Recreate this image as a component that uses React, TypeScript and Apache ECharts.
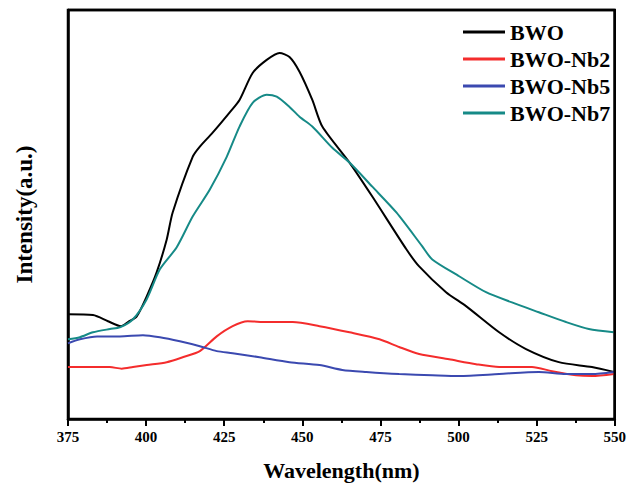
import React, { useEffect, useRef } from "react";
import * as echarts from "echarts";

const xTicks = [375, 400, 425, 450, 475, 500, 525, 550];
const xMin = 375;
const xMax = 550;
const yMin = 0;
const yMax = 100;

const bwoX = [375, 383, 387.8, 392, 394.2, 397, 400.2, 403.4, 406.6, 408.5, 414.9, 417.2, 421.3, 426.7, 429.9, 434.1, 438.6, 442.7, 445.9, 449.1, 453.2, 456.4, 465.1, 472.4, 483.3, 487.4, 496, 502.4, 513, 521.6, 532.1, 542.7, 549.7];
const bwoY = [25.6, 25.4, 23.9, 22.7, 23.7, 25.1, 30, 35.9, 43.9, 50.5, 64.1, 66.6, 70, 74.9, 78, 84.6, 87.8, 89.5, 88.5, 84.9, 78, 71.5, 62.7, 54.4, 41.5, 37.3, 31, 27.6, 21.2, 17.1, 13.9, 12.7, 11.5];

const nb2X = [375, 383, 388.4, 392.2, 395.8, 400.2, 406.6, 411.7, 417.2, 422.6, 427.7, 432.5, 438.6, 446.9, 455.5, 465.1, 474.7, 481, 487.4, 497, 505.6, 513, 523.5, 529.9, 537.6, 542.7, 549.7];
const nb2Y = [12.7, 12.7, 12.7, 12.3, 12.7, 13.2, 13.9, 15.1, 16.6, 20.2, 22.7, 23.9, 23.7, 23.7, 22.7, 21.2, 19.5, 17.6, 15.9, 14.6, 13.4, 12.7, 12.7, 11.7, 10.7, 10.5, 11];

const nb5X = [375, 378.8, 384.3, 391.6, 399, 404.4, 410.8, 417.2, 422.6, 427.7, 436.3, 445.9, 455.5, 462.8, 470.5, 481, 491.6, 500.2, 513, 525.7, 534.4, 542.7, 549.7];
const nb5Y = [18.5, 19.5, 20.2, 20.2, 20.5, 20, 19, 17.8, 16.6, 16.1, 15.1, 13.9, 13.2, 12, 11.5, 11, 10.7, 10.5, 11, 11.5, 11, 11, 11.5];

const nb7X = [375, 378.8, 383, 388.4, 391.6, 395.8, 400.2, 404.4, 409.8, 414.9, 420.4, 425.8, 429.9, 434.1, 438.6, 441.8, 445.9, 449.1, 453.2, 459.6, 465.1, 472.4, 480.1, 488.4, 491.6, 500.2, 508.8, 517.1, 525.7, 534.4, 541.7, 549.7];
const nb7Y = [19.5, 20, 21.2, 22, 22.4, 24.4, 29.3, 36.6, 42, 49.5, 56.1, 64.1, 71.5, 77.3, 79.3, 78.8, 76.3, 73.9, 71.5, 66.3, 62.7, 56.8, 50.5, 42.2, 39, 34.9, 31, 28.5, 26.1, 23.7, 22, 21.2];

const seriesNames = ["BWO", "BWO-Nb2", "BWO-Nb5", "BWO-Nb7"];
const seriesColors = ["#000000", "#f42c2c", "#3b49b0", "#168a87"];

const zip = (xs: number[], ys: number[]) => xs.map((x, i) => [x, ys[i]]);

export default function App() {
  const ref = useRef<HTMLDivElement>(null);
  useEffect(() => {
    document.body.style.margin = "0";
    if (!ref.current) return;
    const chart = echarts.init(ref.current, undefined, { renderer: "svg" });
    const font = "'Liberation Serif', 'Times New Roman', serif";
    const datasets = [zip(bwoX, bwoY), zip(nb2X, nb2Y), zip(nb5X, nb5Y), zip(nb7X, nb7Y)];
    const dataSeries = seriesNames.map((name, i) => ({
      name,
      type: "line",
      data: datasets[i],
      smooth: 0.25,
      showSymbol: false,
      symbol: "none",
      lineStyle: { color: seriesColors[i], width: 2 },
      itemStyle: { color: seriesColors[i] },
    }));
    const frameSeries = {
      name: "frame",
      type: "line",
      data: [[xMin, yMax], [xMax, yMax], [xMax, yMin]],
      clip: false,
      silent: true,
      showSymbol: false,
      symbol: "none",
      z: 5,
      lineStyle: { color: "#000", width: 2.5 },
      itemStyle: { color: "#000" },
      tooltip: { show: false },
    };
    chart.setOption({
      animation: false,
      grid: {
        left: 68,
        right: 13,
        top: 10,
        bottom: 66,
        show: true,
        borderColor: "#000",
        borderWidth: 2.5,
      },
      legend: {
        orient: "vertical",
        left: 458,
        top: 16,
        itemWidth: 42,
        itemHeight: 3,
        itemGap: 5,
        icon: "rect",
        data: seriesNames,
        textStyle: {
          fontFamily: font,
          fontWeight: "bold",
          fontSize: 22,
          color: "#000",
        },
      },
      xAxis: {
        type: "value",
        min: xMin,
        max: xMax,
        interval: 25,
        name: "Wavelength(nm)",
        nameLocation: "middle",
        nameGap: 40,
        nameTextStyle: { fontFamily: font, fontWeight: "bold", fontSize: 22, color: "#000" },
        axisLine: { show: true, onZero: false, lineStyle: { color: "#000", width: 2.5 } },
        axisTick: { show: true, length: 7, lineStyle: { color: "#000", width: 2 } },
        minorTick: { show: true, splitNumber: 2, length: 4, lineStyle: { color: "#000", width: 2 } },
        axisLabel: {
          fontFamily: font,
          fontWeight: "bold",
          fontSize: 15,
          color: "#000",
          margin: 10,
          formatter: (v: number) => (xTicks.includes(v) ? String(v) : ""),
        },
        splitLine: { show: false },
      },
      yAxis: {
        type: "value",
        min: yMin,
        max: yMax,
        name: "Intensity(a.u.)",
        nameLocation: "middle",
        nameGap: 32,
        nameTextStyle: { fontFamily: font, fontWeight: "bold", fontSize: 23, color: "#000" },
        axisLine: { show: true, lineStyle: { color: "#000", width: 2.5 } },
        axisTick: { show: false },
        axisLabel: { show: false },
        splitLine: { show: false },
      },
      series: [...dataSeries, frameSeries],
    });
    return () => chart.dispose();
  }, []);
  return <div ref={ref} style={{ width: 629, height: 486 }} />;
}
